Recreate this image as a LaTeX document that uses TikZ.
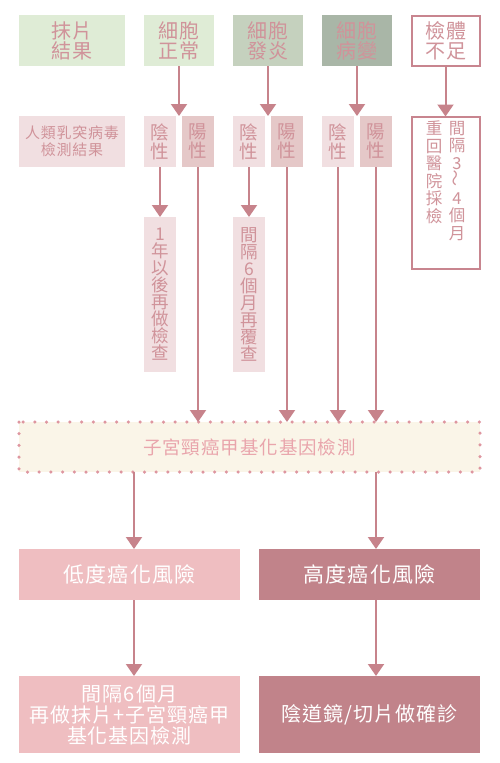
\documentclass[tikz,border=0pt]{standalone}
\usepackage{fontspec}
\usepackage{graphicx}
\setmainfont{Noto Sans CJK TC}[LetterSpace=5]
\usetikzlibrary{arrows.meta}
\definecolor{gA}{HTML}{DFECD6}
\definecolor{gB}{HTML}{C5D1BE}
\definecolor{gC}{HTML}{A9B6A7}
\definecolor{pL}{HTML}{F1DFE1}
\definecolor{pM}{HTML}{E5C8C8}
\definecolor{arrc}{HTML}{C7838B}
\definecolor{bordc}{HTML}{C8858F}
\definecolor{dotc}{HTML}{DE96A0}
\definecolor{creamc}{HTML}{FAF5E8}
\definecolor{lowc}{HTML}{EFBEC1}
\definecolor{highc}{HTML}{C1838A}
\definecolor{txt}{HTML}{D0939A}
\definecolor{txtm}{HTML}{E9A5AC}
\begin{document}
\begin{tikzpicture}[x=1pt,y=-1pt,
  box/.style={inner sep=0pt, outer sep=0pt, align=center, text=txt},
  topbox/.style={box, minimum height=51pt, font=\fontsize{20}{20}\selectfont},
  midbox/.style={box, minimum height=51pt, minimum width=32pt, font=\fontsize{18.5}{19}\selectfont},
  vbox/.style={box, fill=pL, minimum width=32pt, minimum height=155pt, font=\fontsize{17.5}{17}\selectfont},
  outl/.style={draw=bordc, line width=2pt, fill=white},
  resbox/.style={box, text=white, minimum width=221pt},
  arr/.style={draw=arrc, line width=2pt, -{Triangle[width=16pt,length=12pt]}}
]
\useasboundingbox (0,0) rectangle (500,763);
% top row
\node[topbox, fill=gA, minimum width=106pt] (smear) at (72,40.5) {抹片\\結果};
\node[topbox, fill=gA, minimum width=70pt] (normal) at (179,40.5) {細胞\\正常};
\node[topbox, fill=gB, minimum width=70pt] (inflam) at (268,40.5) {細胞\\發炎};
\node[topbox, fill=gC, minimum width=70pt] (lesion) at (357,40.5) {細胞\\病變};
\node[topbox, outl, minimum width=68pt, minimum height=50pt] (insuff) at (445.5,40.5) {檢體\\不足};
% second row
\node[box, fill=pL, minimum width=106pt, minimum height=51pt, font=\fontsize{15}{17}\selectfont] (hpv) at (72,141.5) {人類乳突病毒\\檢測結果};
\node[midbox, fill=pL] (n1neg) at (160,141.5) {陰\\性};
\node[midbox, fill=pM] (n1pos) at (198,141.5) {陽\\性};
\node[midbox, fill=pL] (n2neg) at (249,141.5) {陰\\性};
\node[midbox, fill=pM] (n2pos) at (287,141.5) {陽\\性};
\node[midbox, fill=pL] (n3neg) at (338,141.5) {陰\\性};
\node[midbox, fill=pM] (n3pos) at (376,141.5) {陽\\性};
\node[box, outl, minimum width=68pt, minimum height=152pt] (recheck) at (445.5,192.5) {};
\node[box, font=\fontsize{16.5}{17.5}\selectfont, anchor=north] (recheckL) at (434,121) {重\\回\\醫\\院\\採\\檢};
\node[box, font=\fontsize{16.5}{17.5}\selectfont, anchor=north] (recheckR) at (457,121) {間\\隔\\3\\\rotatebox{90}{～}\\4\\個\\月};
% vertical result boxes
\node[vbox] (r1) at (160,294.5) {1\\年\\以\\後\\再\\做\\檢\\查};
\node[vbox] (r2) at (249,294.5) {間\\隔\\6\\個\\月\\再\\覆\\查};
% methylation test
\node[box, fill=creamc, minimum width=461pt, minimum height=50pt, text=txtm, font=\fontsize{18.5}{20}\selectfont] (methyl) at (249.5,447) {子宮頸癌甲基化基因檢測};
\draw[dotc, line width=3.5pt, line cap=round, dash pattern=on 0pt off 11.7pt] (methyl.north west) rectangle (methyl.south east);
% risk boxes
\node[resbox, fill=lowc, minimum height=51pt, font=\fontsize{21}{22}\selectfont] (low) at (129.5,574.5) {低度癌化風險};
\node[resbox, fill=highc, minimum height=51pt, font=\fontsize{21}{22}\selectfont] (high) at (369.5,574.5) {高度癌化風險};
\node[resbox, fill=lowc, minimum height=77pt, font=\fontsize{20}{21}\selectfont] (lowres) at (129.5,714.5) {間隔6個月\\再做抹片+子宮頸癌甲\\基化基因檢測};
\node[resbox, fill=highc, minimum height=77pt, font=\fontsize{20}{21}\selectfont] (highres) at (369.5,714.5) {陰道鏡/切片做確診};
% arrows
\draw[arr] (normal.south) -- (normal.south |- n1neg.north);
\draw[arr] (inflam.south) -- (inflam.south |- n2neg.north);
\draw[arr] (lesion.south) -- (lesion.south |- n3neg.north);
\draw[arr] (insuff.south) -- (recheck.north);
\draw[arr] (n1neg.south) -- (r1.north);
\draw[arr] (n2neg.south) -- (r2.north);
\draw[arr] (n1pos.south) -- (n1pos.south |- methyl.north);
\draw[arr] (n2pos.south) -- (n2pos.south |- methyl.north);
\draw[arr] (n3neg.south) -- (n3neg.south |- methyl.north);
\draw[arr] (n3pos.south) -- (n3pos.south |- methyl.north);
\draw[arr] ([xshift=4.5pt]low.north |- methyl.south) -- ([xshift=4.5pt]low.north);
\draw[arr] ([xshift=6.5pt]high.north |- methyl.south) -- ([xshift=6.5pt]high.north);
\draw[arr] ([xshift=4.5pt]low.south) -- ([xshift=4.5pt]lowres.north);
\draw[arr] ([xshift=6.5pt]high.south) -- ([xshift=6.5pt]highres.north);
\end{tikzpicture}
\end{document}
